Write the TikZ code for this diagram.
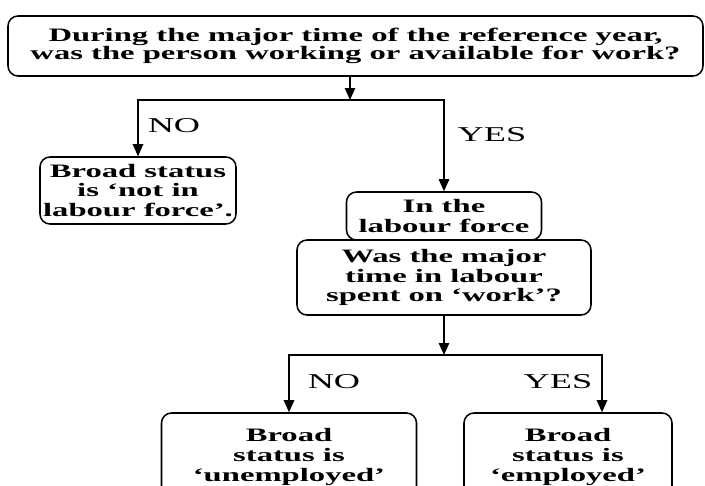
\documentclass[tikz,border=0pt]{standalone}
\usepackage{fontspec}
\setmainfont{Liberation Serif}[FakeStretch=1.72]
\usepackage{tikz}
\usetikzlibrary{arrows.meta}

\begin{document}
\begin{tikzpicture}[
    question/.style={rectangle, draw=black, line width=1.1pt, fill=white, rounded corners=0.25cm, align=center, inner sep=1pt, font=\bfseries\fontsize{13.5}{14}\selectfont},
    answer/.style={font=\fontsize{15}{15}\selectfont},
    arrow/.style={-{Triangle[length=3mm,width=2.6mm]}, line width=1.1pt}
]
\useasboundingbox (0,0) rectangle (17.625,-12.15);

% Top question
\node[question, minimum width=17.375cm, minimum height=1.5cm, font=\bfseries\fontsize{13.5}{12.5}\selectfont] (avail) at (8.8875,-1.15) {During the major time of the reference year,\\was the person working or available for work?};

% First answers
\node[question, minimum width=4.9cm, minimum height=1.675cm] (notlf) at (3.45,-4.7625) {Broad status\\is ‘not in\\labour force’.};
\node[question, minimum width=4.875cm, minimum height=1.2cm] (inlf) at (11.1,-5.4) {In the\\labour force};
\node[question, minimum width=7.35cm, minimum height=1.875cm] (spent) at (11.1,-6.9375) {Was the major\\time in labour\\spent on ‘work’?};

% Final status
\node[question, minimum width=6.375cm, minimum height=2.2cm] (unemp) at (7.225,-11.425) {Broad\\status is\\‘unemployed’};
\node[question, minimum width=5.2cm, minimum height=2.2cm] (emp) at (14.2,-11.425) {Broad\\status is\\‘employed’};

% Junctions
\coordinate (split1) at (8.75,-2.5);
\coordinate (split2) at (11.1,-8.875);

% Arrows
\draw[arrow] (avail.south -| split1) -- (split1);
\draw[arrow] (split1) -| (notlf.north);
\draw[arrow] (split1) -| (inlf.north);
\draw[arrow] (spent) -- (split2);
\draw[arrow] (split2) -| (unemp.north);
\draw[arrow] (split2) -| ([xshift=0.85cm]emp.north);

% Labels
\node[answer] (no1) at (4.35,-3.15) {NO};
\node[answer] (yes1) at (12.3,-3.375) {YES};
\node[answer] (no2) at (8.35,-9.55) {NO};
\node[answer] (yes2) at (13.95,-9.55) {YES};

\end{tikzpicture}
\end{document}
